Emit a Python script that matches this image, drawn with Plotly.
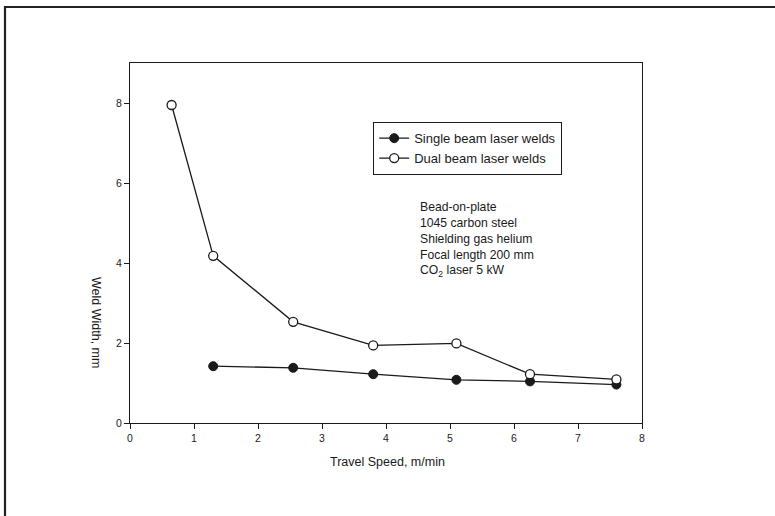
import plotly.graph_objects as go

# Weld width versus travel speed for single and dual beam laser welds
speed_single = [1.3, 2.55, 3.8, 5.1, 6.25, 7.6]
width_single = [1.42, 1.38, 1.22, 1.08, 1.04, 0.96]

speed_dual = [0.65, 1.3, 2.55, 3.8, 5.1, 6.25, 7.6]
width_dual = [7.95, 4.18, 2.53, 1.94, 1.99, 1.22, 1.09]

x_ticks = [0, 1, 2, 3, 4, 5, 6, 7, 8]
y_ticks = [0, 2, 4, 6, 8]

conditions = [
    "Bead-on-plate",
    "1045 carbon steel",
    "Shielding gas helium",
    "Focal length 200 mm",
    "CO<sub>2</sub> laser 5 kW",
]

W, H = 775, 516
L, R, T, B = 130, 133, 63, 93
pw, ph = W - L - R, H - T - B


def px(xp):
    return (xp - L) / pw


def py(yp):
    return (H - B - yp) / ph


ink = "#1a1a1a"
font = "Liberation Sans, Arial, sans-serif"

fig = go.Figure()
fig.add_trace(go.Scatter(
    x=speed_single, y=width_single, mode="lines+markers",
    name="Single beam laser welds",
    line=dict(color=ink, width=1.3),
    marker=dict(symbol="circle", size=9, color=ink, line=dict(color=ink, width=1)),
))
fig.add_trace(go.Scatter(
    x=speed_dual, y=width_dual, mode="lines+markers",
    name="Dual beam laser welds",
    line=dict(color=ink, width=1.3),
    marker=dict(symbol="circle", size=9, color="white", line=dict(color=ink, width=1.3)),
))

axis_common = dict(
    showline=True, linecolor=ink, linewidth=1.3, mirror=True,
    ticks="outside", ticklen=5, tickwidth=1, tickcolor=ink,
    showgrid=False, zeroline=False,
    tickfont=dict(family=font, size=10.5, color=ink),
)

fig.update_layout(
    width=W, height=H,
    margin=dict(l=L, r=R, t=T, b=B),
    paper_bgcolor="white", plot_bgcolor="white",
    font=dict(family=font, color=ink),
    xaxis=dict(range=[0, 8], tickvals=x_ticks, **axis_common),
    yaxis=dict(range=[0, 9], tickvals=y_ticks, **axis_common),
    showlegend=True,
    legend=dict(
        x=px(373), y=py(122), xanchor="left", yanchor="top",
        bordercolor=ink, borderwidth=1.2, bgcolor="white",
        font=dict(family=font, size=13, color=ink),
        itemwidth=30, tracegroupgap=0,
    ),
)

fig.add_annotation(
    x=px(418), y=py(198), xref="paper", yref="paper",
    xanchor="left", yanchor="top", align="left", showarrow=False,
    text="<br>".join(conditions),
    font=dict(family=font, size=12.2, color=ink),
)

fig.add_annotation(
    x=px(387), y=py(462), xref="paper", yref="paper",
    xanchor="center", yanchor="middle", showarrow=False,
    text="Travel Speed, m/min",
    font=dict(family=font, size=12.5, color=ink),
)

fig.add_annotation(
    x=px(96), y=py(322), xref="paper", yref="paper",
    xanchor="center", yanchor="middle", showarrow=False, textangle=90,
    text="Weld Width, mm",
    font=dict(family=font, size=12.5, color=ink),
)

# Outer page frame
fig.add_shape(
    type="rect", xref="paper", yref="paper",
    x0=px(5), x1=px(790), y0=py(540), y1=py(7),
    line=dict(color="#222222", width=2.2), fillcolor="rgba(0,0,0,0)",
)

fig.write_html("out.html")
